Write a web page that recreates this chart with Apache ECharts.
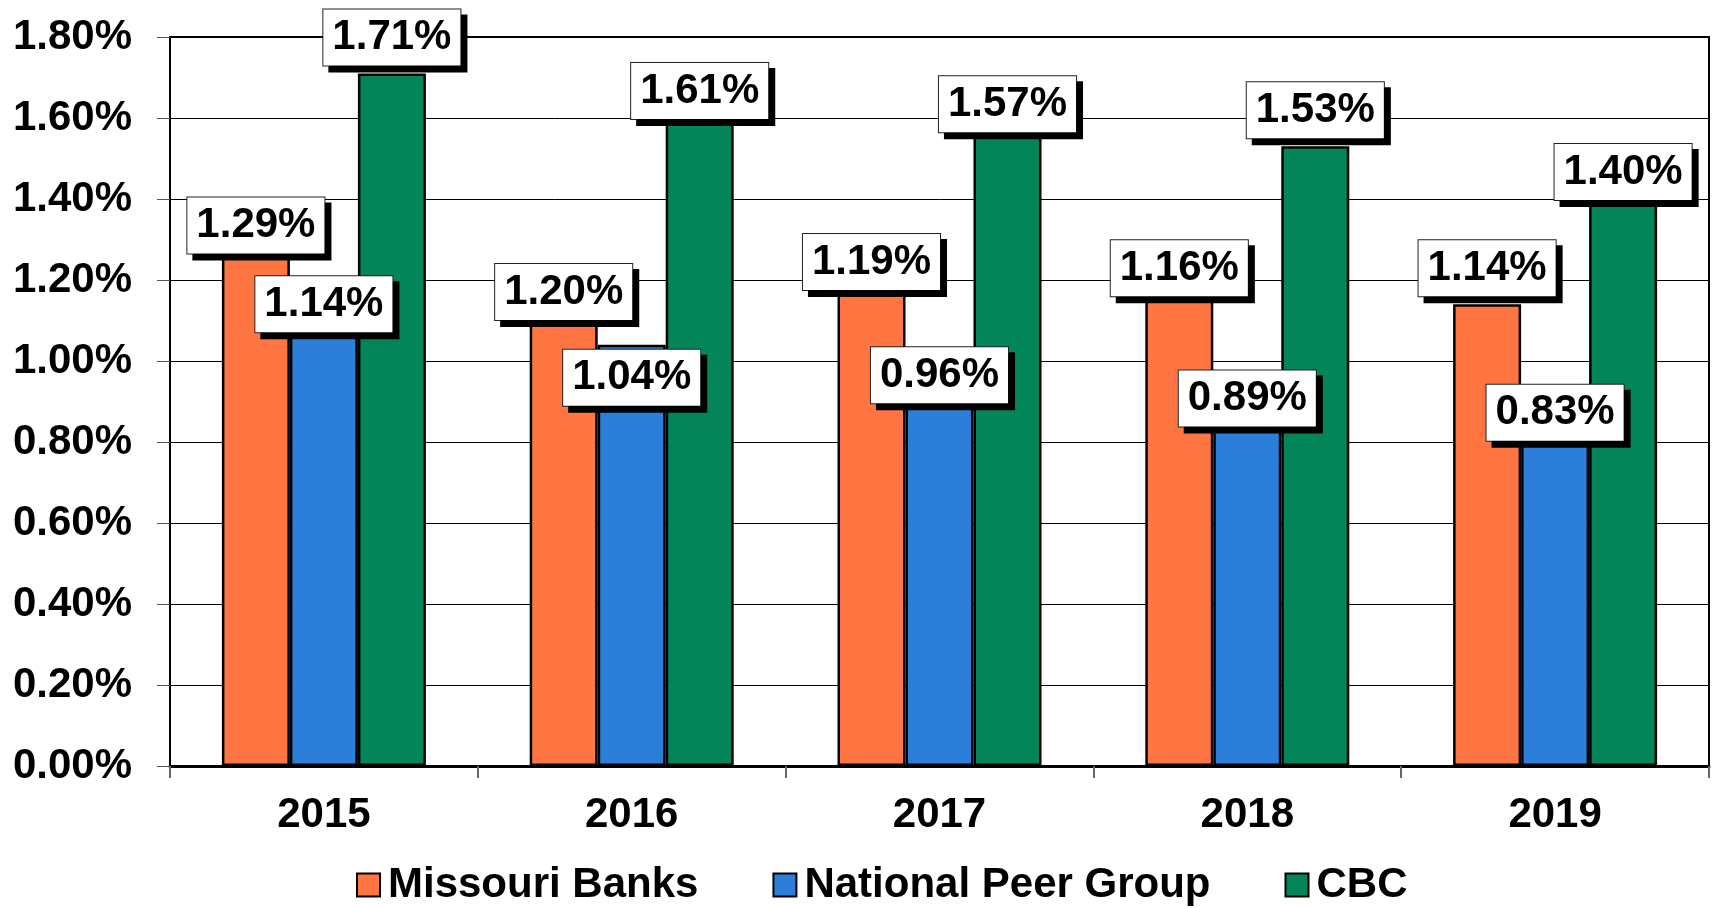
<!DOCTYPE html>
<html>
<head>
<meta charset="utf-8">
<script src="https://cdn.jsdelivr.net/npm/echarts@6/dist/echarts.min.js"></script>
<style>
  html, body { margin: 0; padding: 0; background: #fff; }
  #chart { width: 1712px; height: 908px; }
</style>
</head>
<body>
<div id="chart"></div>
<script>
// chart data
var years = ["2015", "2016", "2017", "2018", "2019"];
var missouriBanks = [1.29, 1.20, 1.19, 1.16, 1.14];
var nationalPeer = [1.14, 1.04, 0.96, 0.89, 0.83];
var cbc = [1.71, 1.61, 1.57, 1.53, 1.40];

// how far each label box centre sits above its bar top (px), placed by hand in the original
var liftMissouri = [18, -12, 22, 28, 36];
var liftNational = [0, -33, 2, 7, 17];
var liftCbc = [36, 23, 26, 36, 27];

var FONT = "Liberation Sans, Arial, sans-serif";
var HALF_BOX = 28;

function makeData(values, lifts) {
  return values.map(function (v, i) {
    return { value: v, label: { offset: [0, HALF_BOX - lifts[i]] } };
  });
}

var labelStyle = {
  show: true,
  position: "top",
  distance: 0,
  formatter: function (p) { return p.value.toFixed(2) + "%"; },
  fontFamily: FONT,
  fontWeight: "bold",
  fontSize: 42,
  lineHeight: 44,
  color: "#000",
  backgroundColor: "#fff",
  borderColor: "#222",
  borderWidth: 1,
  padding: [6, 9, 6, 9],
  shadowColor: "#000",
  shadowBlur: 0,
  shadowOffsetX: 6,
  shadowOffsetY: 6
};

function barSeries(name, values, lifts, color) {
  return {
    name: name,
    type: "bar",
    barWidth: 68,
    barGap: "0%",
    data: makeData(values, lifts),
    itemStyle: { color: color, borderColor: "#000", borderWidth: 2.5 },
    label: labelStyle,
    emphasis: { disabled: true }
  };
}

var myChart = echarts.init(document.getElementById("chart"));
var option = {
  animation: false,
  backgroundColor: "#fff",
  grid: {
    left: 170,
    right: 3,
    top: 37,
    bottom: 142,
    show: true,
    borderColor: "#000",
    borderWidth: 2
  },
  legend: {
    left: 356,
    top: 864,
    padding: 0,
    icon: "rect",
    itemWidth: 23,
    itemHeight: 23,
    itemGap: 74,
    itemStyle: { borderColor: "#000", borderWidth: 2 },
    textStyle: { fontFamily: FONT, fontWeight: "bold", fontSize: 42, color: "#000", padding: [0, 0, 0, 3] },
    data: ["Missouri Banks", "National Peer Group", "CBC"]
  },
  xAxis: {
    type: "category",
    data: years,
    axisLine: { lineStyle: { color: "#000", width: 3 } },
    axisTick: { show: true, length: 12, lineStyle: { color: "#666", width: 2 } },
    axisLabel: { fontFamily: FONT, fontWeight: "bold", fontSize: 42, color: "#000", margin: 28 },
    splitLine: { show: false }
  },
  yAxis: {
    type: "value",
    min: 0,
    max: 1.8,
    interval: 0.2,
    axisLine: { show: true, lineStyle: { color: "#000", width: 2 } },
    axisTick: { show: true, length: 13, lineStyle: { color: "#555", width: 1 } },
    axisLabel: {
      fontFamily: FONT, fontWeight: "bold", fontSize: 42, color: "#000", margin: 38,
      formatter: function (v) { return v.toFixed(2) + "%"; }
    },
    splitLine: { show: true, lineStyle: { color: "#000", width: 1 } }
  },
  series: [
    barSeries("Missouri Banks", missouriBanks, liftMissouri, "#FF7642"),
    barSeries("National Peer Group", nationalPeer, liftNational, "#2C7FD8"),
    barSeries("CBC", cbc, liftCbc, "#03855A")
  ]
};
myChart.setOption(option);
</script>
</body>
</html>
